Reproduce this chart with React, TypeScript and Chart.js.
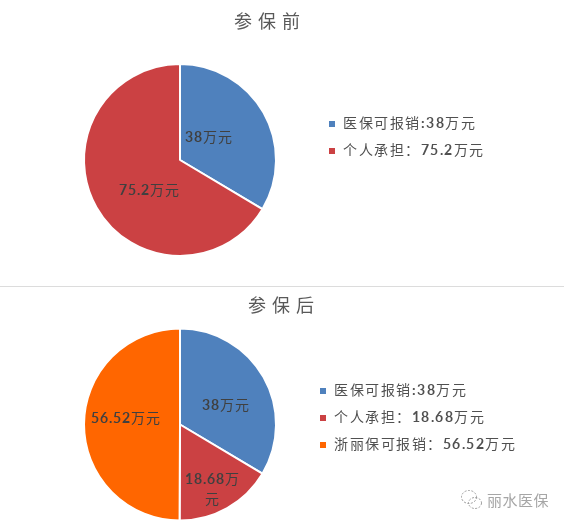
import { useEffect, useRef, useState } from "react";
import { Chart, registerables } from "chart.js";

Chart.register(...registerables);

// digits in a bold face and Chinese in a regular one, as in the picture
const MIXED_FONT_CSS = `
@font-face { font-family: "PieMixed"; src: local("Noto Sans CJK SC"), local("Noto Sans CJK SC Regular"); }
@font-face { font-family: "PieMixed"; src: local("Lato Bold"), local("Lato-Bold"); unicode-range: U+0020-007E; }
`;
const FONT = "PieMixed, 'Noto Sans CJK SC', sans-serif";
const TITLE_FONT = "'Noto Sans CJK SC', sans-serif";

const beforeTitle = "参保前";
const beforeLegend = ["医保可报销:38万元", "个人承担：75.2万元"];
const beforeValues = [38, 75.2];
const beforeColors = ["#4f81bd", "#cb4143"];
const beforeLabels = [["38万元"], ["75.2万元"]];

const afterTitle = "参保后";
const afterLegend = ["医保可报销:38万元", "个人承担：18.68万元", "浙丽保可报销：56.52万元"];
const afterValues = [38, 18.68, 56.52];
const afterColors = ["#4f81bd", "#cb4143", "#ff6600"];
const afterLabels = [["38万元"], ["18.68万", "元"], ["56.52万元"]];

interface PieProps {
  title: string;
  legend: string[];
  values: number[];
  colors: string[];
  labels: string[][];
  nudges: number[][]; // label shift from the middle of the slice
  height: number;
  titleX: number;
  titlePadding: { top: number; bottom: number };
  bottomPadding: number;
  legendPos: { left: number; top: number };
}

function PieChart(props: PieProps) {
  const ref = useRef<HTMLCanvasElement>(null);

  useEffect(() => {
    if (!ref.current) return;

    const placement = {
      id: "placement",
      afterLayout(chart: any) {
        const legend = chart.legend;
        legend.left = props.legendPos.left;
        legend.top = props.legendPos.top;
        legend.right = chart.width;
        legend.bottom = chart.height;
        const title = chart.titleBlock;
        title.left = props.titleX - title.width / 2;
        title.right = props.titleX + title.width / 2;
        if (!title._spaced) {
          const draw = title.draw.bind(title);
          title.draw = () => {
            chart.ctx.letterSpacing = "6px";
            draw();
            chart.ctx.letterSpacing = "1.5px";
          };
          title._spaced = true;
        }
      },
      beforeDraw(chart: any) {
        chart.ctx.letterSpacing = "1.5px";
      },
      afterDatasetsDraw(chart: any) {
        const ctx = chart.ctx;
        ctx.save();
        ctx.font = `14px ${FONT}`;
        ctx.letterSpacing = "1px";
        ctx.fillStyle = "#404040";
        ctx.textAlign = "center";
        ctx.textBaseline = "middle";
        chart.getDatasetMeta(0).data.forEach((arc: any, i: number) => {
          const pos = arc.tooltipPosition();
          const lines = props.labels[i];
          lines.forEach((line, n) => {
            const y = pos.y + props.nudges[i][1] + (n - (lines.length - 1) / 2) * 20;
            ctx.fillText(line, pos.x + props.nudges[i][0], y);
          });
        });
        ctx.restore();
      },
    };

    const chart = new Chart(ref.current, {
      type: "pie",
      data: {
        labels: props.legend,
        datasets: [{
          data: props.values,
          backgroundColor: props.colors,
          borderColor: "#ffffff",
          borderWidth: 2,
        }],
      },
      options: {
        responsive: false,
        animation: false,
        layout: { padding: { left: 83, right: 287, bottom: props.bottomPadding } },
        plugins: {
          title: {
            display: true,
            text: props.title,
            color: "#595959",
            font: { family: TITLE_FONT, size: 18, weight: "normal", lineHeight: 1.2 },
            padding: props.titlePadding,
          },
          legend: {
            position: "chartArea",
            align: "start",
            labels: {
              boxWidth: 8,
              boxHeight: 8,
              padding: 13,
              color: "#505050",
              font: { family: FONT, size: 14, weight: "normal" },
            },
          },
          tooltip: { enabled: false },
        },
      },
      plugins: [placement],
    } as any);

    return () => chart.destroy();
  }, []);

  return <canvas ref={ref} width={564} height={props.height} style={{ display: "block" }} />;
}

export default function App() {
  const [ready, setReady] = useState(false);

  useEffect(() => {
    // canvas text only uses a local font face once it has been loaded
    Promise.all([
      document.fonts.load("14px PieMixed", "万"),
      document.fonts.load("14px PieMixed", "38"),
    ]).finally(() => setReady(true));
  }, []);

  return (
    <div style={{ position: "absolute", left: 0, top: 0, width: 564, height: 525, background: "#fff", overflow: "hidden" }}>
      <style>{MIXED_FONT_CSS}</style>
      {ready && (
        <>
          <PieChart
            title={beforeTitle}
            legend={beforeLegend}
            values={beforeValues}
            colors={beforeColors}
            labels={beforeLabels}
            nudges={[[-13, 1], [11, 7]]}
            height={286}
            titleX={270}
            titlePadding={{ top: 10, bottom: 31.4 }}
            bottomPadding={29}
            legendPos={{ left: 315, top: 104 }}
          />
          <div style={{ height: 1, background: "#dcdcdc" }} />
          <PieChart
            title={afterTitle}
            legend={afterLegend}
            values={afterValues}
            colors={afterColors}
            labels={afterLabels}
            nudges={[[4, 5], [9, 23], [-6, -6]]}
            height={238}
            titleX={284}
            titlePadding={{ top: 7, bottom: 11.4 }}
            bottomPadding={3}
            legendPos={{ left: 306, top: 84 }}
          />
        </>
      )}
      <svg width={24} height={22} style={{ position: "absolute", left: 460, top: 489 }} fill="none" stroke="#9a9a9a" strokeWidth={1} strokeDasharray="2 1.5">
        <ellipse cx={9} cy={8} rx={7.5} ry={6.5} />
        <ellipse cx={15} cy={14} rx={6.5} ry={5.5} />
      </svg>
      <div style={{ position: "absolute", left: 487, top: 489, fontFamily: TITLE_FONT, fontSize: 15, letterSpacing: 0.5, color: "#a6a6a6" }}>
        丽水医保
      </div>
    </div>
  );
}
